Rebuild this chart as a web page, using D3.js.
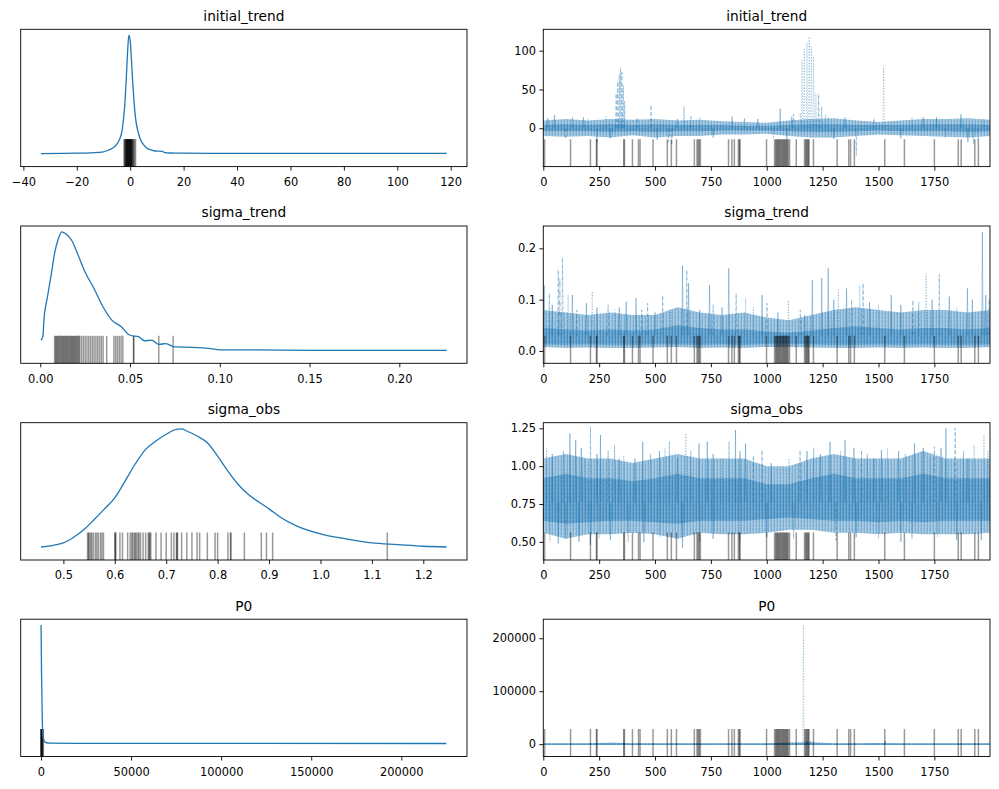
<!DOCTYPE html>
<html lang="en">
<head>
<meta charset="utf-8">
<title>trace plot</title>
<script src="https://cdn.jsdelivr.net/npm/d3@7"></script>
<style>
  body { margin: 0; background: #fff; }
  text { font-family: "DejaVu Sans", sans-serif; fill: #000; }
  .tick text { font-size: 11.4px; }
  .tick line { stroke: #000; stroke-width: 0.9px; }
  .title { font-size: 13.7px; }
  .frame { fill: none; stroke: #000; stroke-width: 0.9px; }
  .kde { fill: none; stroke: #1f77b4; stroke-width: 1.3px; }
  .rug { stroke: #000; stroke-opacity: 0.4; stroke-width: 1.5px; }
  .band { stroke: none; }
  .spike { fill: none; stroke: #1f77b4; stroke-opacity: 0.38; stroke-width: 1px; }
</style>
</head>
<body>
<script>

// ---- data ----
var varNames = ["initial_trend", "sigma_trend", "sigma_obs", "P0"];
var lastDraw = 1999;

// draws where the sampler diverged (rug in the trace panels)
var divergenceDraws = [6, 122, 211, 238, 240, 360, 363, 399, 426, 433, 491, 555, 573, 596,
  676, 688, 693, 698, 703, 829, 844, 855, 873, 878, 880, 999,
  1035, 1040, 1044, 1048, 1052, 1056, 1060, 1064, 1068, 1072, 1076, 1080, 1084, 1088, 1092, 1096, 1102,
  1132, 1169, 1174, 1178, 1182, 1186, 1189, 1209, 1315, 1367, 1375, 1392, 1528, 1616, 1750,
  1857, 1870, 1931, 1947];

// kde curves [value, relative density]
var kdeInitialTrend = [[-33.4, 0.0], [-25, 0.002], [-20, 0.003], [-15, 0.006], [-12, 0.01], [-10, 0.015],
  [-8, 0.03], [-6, 0.055], [-5, 0.08], [-4, 0.12], [-3, 0.2], [-2.5, 0.3], [-2, 0.42], [-1.5, 0.62],
  [-1, 0.85], [-0.5, 1.0], [0, 0.95], [0.5, 0.78], [1, 0.58], [1.5, 0.42], [2, 0.3], [3, 0.18],
  [4, 0.11], [5, 0.075], [6, 0.05], [8, 0.03], [10, 0.02], [11, 0.02], [12, 0.018], [13, 0.008],
  [15, 0.005], [20, 0.003], [30, 0.002], [60, 0.002], [118.5, 0.001]];
var kdeSigmaTrend = [[0.0004, 0.085], [0.0015, 0.12], [0.002, 0.25], [0.004, 0.45], [0.006, 0.63],
  [0.008, 0.82], [0.010, 0.94], [0.012, 1.0], [0.014, 0.986], [0.016, 0.958], [0.018, 0.915],
  [0.020, 0.845], [0.025, 0.66], [0.030, 0.52], [0.035, 0.366], [0.040, 0.253], [0.045, 0.2],
  [0.050, 0.127], [0.055, 0.113], [0.058, 0.08], [0.062, 0.085], [0.066, 0.05], [0.070, 0.056],
  [0.075, 0.028], [0.085, 0.025], [0.095, 0.014], [0.10, 0.003], [0.12, 0.003], [0.15, 0.0], [0.2264, 0.0]];
var kdeSigmaObs = [[0.4565, 0.0], [0.48, 0.014], [0.50, 0.034], [0.52, 0.082], [0.54, 0.147],
  [0.56, 0.232], [0.58, 0.322], [0.60, 0.415], [0.62, 0.556], [0.64, 0.703], [0.66, 0.825],
  [0.68, 0.895], [0.70, 0.952], [0.72, 0.994], [0.73, 0.997], [0.74, 0.98], [0.76, 0.938],
  [0.78, 0.88], [0.80, 0.768], [0.82, 0.64], [0.84, 0.528], [0.86, 0.443], [0.88, 0.38],
  [0.90, 0.322], [0.92, 0.257], [0.95, 0.184], [1.00, 0.11], [1.05, 0.068], [1.10, 0.034],
  [1.15, 0.02], [1.20, 0.006], [1.2455, 0.0]];
var kdeP0 = [[50, 1.0], [300, 0.6], [700, 0.2], [1200, 0.05], [2500, 0.01], [5000, 0.003],
  [20000, 0.001], [225000, 0.0]];

// parameter values at the divergences (rug in the kde panels)
var rugInitialTrend = [-2.3, -2.1, -1.9, -1.7, -1.6, -1.5, -1.4, -1.3, -1.2, -1.1, -1.0, -0.9, -0.8,
  -0.7, -0.6, -0.5, -0.4, -0.3, -0.2, -0.1, 0, 0.1, 0.2, 0.3, 0.4, 0.5, 0.6, 0.7, 0.9, 1.1, 1.3, 1.6, 2.0];
var rugSigmaTrend = [0.008, 0.0085, 0.009, 0.0095, 0.010, 0.0105, 0.011, 0.0115, 0.012, 0.0125, 0.013,
  0.0135, 0.014, 0.0145, 0.015, 0.0155, 0.016, 0.0165, 0.017, 0.0175, 0.018, 0.0185, 0.019, 0.0195,
  0.020, 0.0205, 0.021, 0.0215, 0.022, 0.023, 0.024, 0.025, 0.026, 0.027, 0.028, 0.029, 0.030, 0.031,
  0.032, 0.033, 0.034, 0.035, 0.037, 0.041, 0.042, 0.043, 0.044, 0.045, 0.046, 0.052, 0.052, 0.066, 0.074];
var rugSigmaObs = [0.547, 0.549, 0.55, 0.553, 0.555, 0.558, 0.562, 0.565, 0.568, 0.572, 0.575, 0.578,
  0.60, 0.601, 0.602, 0.61, 0.615, 0.625, 0.63, 0.633, 0.635, 0.638, 0.64, 0.642, 0.645, 0.647, 0.65,
  0.655, 0.66, 0.665, 0.667, 0.668, 0.67, 0.68, 0.69, 0.70, 0.71, 0.715, 0.72, 0.721, 0.722, 0.73,
  0.74, 0.75, 0.76, 0.765, 0.78, 0.795, 0.80, 0.82, 0.825, 0.826, 0.852, 0.885, 0.895, 0.907, 1.13];
var rugP0 = [0, 80, 150, 250, 350, 450, 600, 800, 1000, 1300];

// trace bands, one value every 100 draws: outer envelope and dense core
var bandStep = 100;
var initialTrendUpper = [10, 12, 10, 12, 11, 12, 10, 11, 9, 8, 7, 10, 12, 13, 10, 8, 10, 12, 12, 13, 11];
var initialTrendLower = [-10, -11, -10, -12, -9, -12, -10, -10, -8, -8, -7, -10, -12, -12, -10, -8, -9, -10, -11, -12, -10];
var initialTrendCoreUpper = [4, 5, 4, 5, 4, 5, 4, 4, 4, 3, 3, 4, 5, 5, 4, 4, 4, 5, 5, 5, 4];
var initialTrendCoreLower = [-4, -4, -4, -5, -4, -5, -4, -4, -3, -3, -3, -4, -5, -5, -4, -3, -4, -4, -4, -5, -4];
var sigmaTrendUpper = [0.08, 0.075, 0.07, 0.075, 0.07, 0.07, 0.085, 0.075, 0.07, 0.075, 0.065, 0.06, 0.07, 0.08, 0.085, 0.08, 0.075, 0.08, 0.08, 0.075, 0.08];
var sigmaTrendLower = [0.008, 0.006, 0.007, 0.006, 0.006, 0.007, 0.008, 0.006, 0.007, 0.006, 0.008, 0.008, 0.007, 0.006, 0.006, 0.007, 0.006, 0.007, 0.006, 0.006, 0.008];
var sigmaTrendCoreUpper = [0.045, 0.042, 0.04, 0.042, 0.04, 0.042, 0.05, 0.045, 0.042, 0.042, 0.038, 0.036, 0.04, 0.045, 0.048, 0.045, 0.042, 0.045, 0.045, 0.042, 0.045];
var sigmaTrendCoreLower = [0.013, 0.012, 0.013, 0.012, 0.012, 0.013, 0.013, 0.012, 0.013, 0.012, 0.014, 0.014, 0.013, 0.012, 0.012, 0.013, 0.012, 0.013, 0.012, 0.012, 0.013];
var sigmaObsUpper = [1.05, 1.08, 1.05, 1.05, 1.02, 1.05, 1.08, 1.05, 1.05, 1.05, 1.0, 1.0, 1.05, 1.08, 1.05, 1.05, 1.05, 1.1, 1.05, 1.05, 1.05];
var sigmaObsLower = [0.56, 0.52, 0.55, 0.55, 0.56, 0.55, 0.52, 0.56, 0.55, 0.55, 0.56, 0.58, 0.58, 0.56, 0.56, 0.55, 0.56, 0.55, 0.55, 0.55, 0.56];
var sigmaObsCoreUpper = [0.92, 0.95, 0.92, 0.92, 0.9, 0.92, 0.95, 0.92, 0.92, 0.92, 0.88, 0.88, 0.92, 0.95, 0.92, 0.92, 0.92, 0.95, 0.92, 0.92, 0.92];
var sigmaObsCoreLower = [0.64, 0.62, 0.63, 0.64, 0.64, 0.63, 0.62, 0.64, 0.64, 0.64, 0.65, 0.66, 0.65, 0.64, 0.64, 0.63, 0.64, 0.63, 0.64, 0.64, 0.64];
var p0Upper = [1500, 1500, 1500, 2500, 1500, 1500, 1500, 1500, 1500, 1500, 1500, 2500, 3000, 1500, 1500, 2000, 1500, 1500, 1500, 1500, 1500];
var p0Lower = [-1500, -1500, -1500, -1500, -1500, -1500, -1500, -1500, -1500, -1500, -1500, -1500, -1500, -1500, -1500, -1500, -1500, -1500, -1500, -1500, -1500];

// single excursions of a chain [draw, value, chain]
var initialTrendSpikes = [[50, 17, 0], [130, 15, 1], [200, 12, 2], [240, -18, 0], [326, 45, 1], [333, 60, 1],
  [340, 70, 1], [346, 78, 1], [352, 72, 1], [358, 55, 1], [364, 35, 1], [482, 30, 1], [560, -18, 1],
  [575, -22, 1], [630, 28, 1], [660, 15, 3], [845, 15, 0], [1060, 25, 0], [1112, 15, 0], [1150, 20, 2],
  [1158, 88, 2], [1168, 102, 2], [1180, 110, 2], [1190, 118, 2], [1200, 105, 2], [1210, 92, 2],
  [1220, 45, 2], [1232, 44, 1], [1245, 28, 1], [1262, 18, 2], [1275, 15, 2], [1401, -35, 1], [1523, 80, 2],
  [1700, 14, 0], [1869, 18, 0], [1925, -20, 1], [1945, -15, 3],
  [20, 13, 0], [100, -14, 1], [180, 14, 0], [280, 15, 2], [300, -13, 0], [420, 14, 1], [510, -15, 0],
  [600, 12, 0], [700, 14, 2], [760, -12, 0], [900, 14, 1], [960, 12, 0], [1030, -13, 2], [1090, -14, 0],
  [1120, 18, 1], [1300, -14, 0], [1350, 14, 0], [1480, 13, 1], [1600, -13, 0], [1650, 14, 2],
  [1760, 14, 0], [1800, -12, 1], [1900, -18, 0], [1970, 12, 2]];
var sigmaTrendSpikes = [[4, 0.128, 0], [27, 0.112, 1], [67, 0.158, 1], [74, 0.142, 3], [86, 0.182, 1],
  [111, 0.109, 2], [130, 0.109, 0], [193, 0.093, 0], [219, 0.116, 2], [290, 0.09, 1], [371, 0.096, 0],
  [415, 0.103, 0], [467, 0.093, 1], [534, 0.109, 1], [623, 0.166, 0], [642, 0.158, 1], [650, 0.132, 0],
  [744, 0.128, 0], [830, 0.161, 0], [863, 0.112, 1], [905, 0.103, 2], [979, 0.109, 0], [1001, 0.093, 1],
  [1097, 0.099, 2], [1204, 0.138, 0], [1246, 0.142, 0], [1275, 0.161, 0], [1320, 0.119, 2],
  [1357, 0.122, 0], [1416, 0.128, 2], [1431, 0.132, 1], [1557, 0.109, 0], [1654, 0.099, 1],
  [1713, 0.151, 2], [1772, 0.149, 1], [1817, 0.106, 0], [1898, 0.122, 0], [1965, 0.232, 0], [1980, 0.109, 0],
  [40, 0.09, 0], [150, 0.08, 1], [240, 0.085, 0], [320, 0.08, 2], [340, 0.085, 0], [440, 0.08, 1],
  [500, 0.075, 0], [570, 0.08, 2], [700, 0.08, 0], [760, 0.09, 1], [800, 0.085, 0], [940, 0.085, 2],
  [1050, 0.075, 0], [1150, 0.08, 1], [1170, 0.07, 0], [1300, 0.1, 0], [1380, 0.1, 1], [1460, 0.095, 0],
  [1500, 0.09, 2], [1600, 0.09, 0], [1680, 0.095, 1], [1740, 0.1, 0], [1850, 0.085, 2], [1920, 0.1, 0],
  [1995, 0.1, 1]];
var sigmaObsSpikes = [[15, 1.117, 2], [119, 1.217, 0], [145, 1.172, 0], [211, 1.261, 1], [256, 1.206, 0],
  [319, 1.139, 1], [445, 1.161, 0], [564, 1.161, 1], [638, 1.217, 2], [697, 1.15, 0], [734, 1.161, 0],
  [831, 1.161, 1], [860, 1.239, 0], [905, 1.15, 0], [979, 1.106, 1], [1149, 1.106, 1], [1283, 1.161, 0],
  [1350, 1.172, 0], [1424, 1.106, 1], [1513, 1.106, 0], [1661, 1.15, 0], [1750, 1.128, 1], [1802, 1.25, 0],
  [1843, 1.25, 1], [1928, 1.139, 2], [1972, 1.206, 2],
  [40, 1.08, 0], [90, 1.1, 1], [170, 1.12, 0], [185, 1.05, 2], [240, 1.08, 0], [290, 1.1, 1],
  [340, 1.05, 0], [360, 1.07, 2], [410, 1.05, 0], [480, 1.08, 1], [520, 1.1, 0], [545, 1.12, 2],
  [600, 1.05, 0], [660, 1.1, 1], [760, 1.08, 0], [800, 1.05, 2], [880, 1.1, 0], [940, 1.07, 1],
  [1020, 1.02, 0], [1100, 1.05, 2], [1180, 1.1, 0], [1210, 1.12, 1], [1240, 1.08, 0], [1330, 1.1, 2],
  [1390, 1.12, 0], [1450, 1.08, 1], [1480, 1.05, 0], [1540, 1.12, 2], [1590, 1.1, 0], [1620, 1.08, 1],
  [1700, 1.12, 0], [1730, 1.05, 2], [1780, 1.12, 0], [1880, 1.1, 1], [1900, 1.05, 0], [1990, 1.1, 2],
  [30, 0.5, 2], [67, 0.49, 0], [100, 0.52, 1], [160, 0.5, 0], [211, 0.48, 0], [250, 0.52, 2],
  [300, 0.51, 0], [380, 0.5, 1], [450, 0.5, 0], [520, 0.53, 2], [623, 0.46, 0], [700, 0.5, 1],
  [760, 0.52, 0], [880, 0.5, 2], [1000, 0.53, 0], [1120, 0.52, 1], [1310, 0.51, 1], [1400, 0.53, 0],
  [1500, 0.52, 2], [1600, 0.5, 0], [1650, 0.52, 1], [1765, 0.53, 2], [1850, 0.51, 0], [1960, 0.51, 0]];
var p0Spikes = [[360, 3500, 0], [1164, 225200, 2], [1180, 8000, 1], [1195, 6000, 0], [1210, 4000, 1], [1530, 6000, 0]];

// tick labels
var kdeTicksInitialTrend = [-40, -20, 0, 20, 40, 60, 80, 100, 120];
var kdeTicksSigmaTrend = [0, 0.05, 0.10, 0.15, 0.20];
var kdeTicksSigmaObs = [0.5, 0.6, 0.7, 0.8, 0.9, 1.0, 1.1, 1.2];
var kdeTicksP0 = [0, 50000, 100000, 150000, 200000];
var drawTicks = [0, 250, 500, 750, 1000, 1250, 1500, 1750];
var traceTicksInitialTrend = [0, 50, 100];
var traceTicksSigmaTrend = [0, 0.1, 0.2];
var traceTicksSigmaObs = [0.5, 0.75, 1.0, 1.25];
var traceTicksP0 = [0, 100000, 200000];

// ---- layout ----
var w = 999, h = 789;
var leftX = [20.7, 467];
var rightX = [543.3, 990];
var rowTops = [29.3, 226, 422.7, 619.2];
var panelH = 137.3;
var dashes = [null, "4,2", "1.2,1.6", "5,2,1.2,2"];

var rows = [
  {kde: kdeInitialTrend, rug: rugInitialTrend, kdeDom: [-41.0, 126.1], kdeTicks: kdeTicksInitialTrend, kdeFmt: "d",
   yDom: [-49.5, 127.6], yTicks: traceTicksInitialTrend, yFmt: "d", base: 0, spikes: initialTrendSpikes,
   up: initialTrendUpper, lo: initialTrendLower, cUp: initialTrendCoreUpper, cLo: initialTrendCoreLower},
  {kde: kdeSigmaTrend, rug: rugSigmaTrend, kdeDom: [-0.0109, 0.2377], kdeTicks: kdeTicksSigmaTrend, kdeFmt: ".2f",
   yDom: [-0.024, 0.2435], yTicks: traceTicksSigmaTrend, yFmt: ".1f", base: 0.03, spikes: sigmaTrendSpikes,
   up: sigmaTrendUpper, lo: sigmaTrendLower, cUp: sigmaTrendCoreUpper, cLo: sigmaTrendCoreLower},
  {kde: kdeSigmaObs, rug: rugSigmaObs, kdeDom: [0.417, 1.285], kdeTicks: kdeTicksSigmaObs, kdeFmt: ".1f",
   yDom: [0.38, 1.287], yTicks: traceTicksSigmaObs, yFmt: ".2f", base: 0.76, spikes: sigmaObsSpikes,
   up: sigmaObsUpper, lo: sigmaObsLower, cUp: sigmaObsCoreUpper, cLo: sigmaObsCoreLower},
  {kde: kdeP0, rug: rugP0, kdeDom: [-11260, 236460], kdeTicks: kdeTicksP0, kdeFmt: "d",
   yDom: [-23300, 236000], yTicks: traceTicksP0, yFmt: "d", base: 0, spikes: p0Spikes,
   up: p0Upper, lo: p0Lower, cUp: p0Upper, cLo: p0Lower}
];

var svg = d3.select("body").append("svg")
  .attr("width", w)
  .attr("height", h);

// vertical-stroke texture for the dense part of the traces
var defs = svg.append("defs");
var pat = defs.append("pattern")
  .attr("id", "strokes")
  .attr("patternUnits", "userSpaceOnUse")
  .attr("width", 3).attr("height", 4);
pat.append("rect").attr("width", 3).attr("height", 4)
  .attr("fill", "#1f77b4").attr("fill-opacity", 0.38);
pat.append("rect").attr("x", 0).attr("width", 1).attr("height", 4)
  .attr("fill", "#1f77b4").attr("fill-opacity", 0.35);
pat.append("rect").attr("x", 2).attr("width", 0.6).attr("height", 3)
  .attr("fill", "#1f77b4").attr("fill-opacity", 0.25);

rows.forEach(function(r, i) {
  var top = rowTops[i], bottom = top + panelH;

  // ---------- left: kde + rug ----------
  var xk = d3.scaleLinear().domain(r.kdeDom).range(leftX);
  var yk = d3.scaleLinear().domain([-0.11, 1.05]).range([bottom, top]);

  var gk = svg.append("g");
  gk.selectAll("line.rug")
    .data(r.rug)
    .enter().append("line")
    .attr("class", "rug")
    .attr("x1", d => xk(d)).attr("x2", d => xk(d))
    .attr("y1", bottom).attr("y2", bottom - panelH * 0.2);

  gk.append("path")
    .datum(r.kde)
    .attr("class", "kde")
    .attr("d", d3.line().x(d => xk(d[0])).y(d => yk(d[1])).curve(d3.curveMonotoneX));

  gk.append("g")
    .attr("transform", `translate(0, ${bottom})`)
    .call(d3.axisBottom(xk).tickValues(r.kdeTicks).tickFormat(d3.format(r.kdeFmt))
      .tickSize(4).tickSizeOuter(0).tickPadding(7.4))
    .call(g => g.select(".domain").remove());

  gk.append("rect").attr("class", "frame")
    .attr("x", leftX[0]).attr("y", top)
    .attr("width", leftX[1] - leftX[0]).attr("height", panelH);

  gk.append("text").attr("class", "title")
    .attr("x", (leftX[0] + leftX[1]) / 2).attr("y", top - 8.6)
    .attr("text-anchor", "middle")
    .text(varNames[i]);

  // ---------- right: trace ----------
  var xt = d3.scaleLinear().domain([0, lastDraw]).range(rightX);
  var yt = d3.scaleLinear().domain(r.yDom).range([bottom, top]);

  var clipId = "clip" + i;
  defs.append("clipPath").attr("id", clipId)
    .append("rect")
    .attr("x", rightX[0]).attr("y", top)
    .attr("width", rightX[1] - rightX[0]).attr("height", panelH);

  var gt = svg.append("g").attr("clip-path", `url(#${clipId})`);

  var bandArea = function(upper, lower) {
    return d3.area()
      .x((d, j) => xt(j * bandStep))
      .y0((d, j) => yt(lower[j]))
      .y1((d, j) => yt(upper[j]));
  };

  gt.append("path")
    .datum(r.up)
    .attr("class", "band")
    .attr("fill", "url(#strokes)")
    .attr("d", bandArea(r.up, r.lo));

  gt.append("path")
    .datum(r.cUp)
    .attr("class", "band")
    .attr("fill", "url(#strokes)")
    .attr("d", bandArea(r.cUp, r.cLo));

  gt.selectAll("path.spike")
    .data(r.spikes)
    .enter().append("path")
    .attr("class", "spike")
    .attr("stroke-dasharray", d => dashes[d[2]])
    .attr("d", d => d3.line()([[xt(d[0] - 3), yt(r.base)], [xt(d[0]), yt(d[1])], [xt(d[0] + 3), yt(r.base)]]));

  gt.selectAll("line.rug")
    .data(divergenceDraws)
    .enter().append("line")
    .attr("class", "rug")
    .attr("x1", d => xt(d)).attr("x2", d => xt(d))
    .attr("y1", bottom).attr("y2", bottom - panelH * 0.2);

  svg.append("g")
    .attr("transform", `translate(0, ${bottom})`)
    .call(d3.axisBottom(xt).tickValues(drawTicks).tickFormat(d3.format("d"))
      .tickSize(4).tickSizeOuter(0).tickPadding(7.4))
    .call(g => g.select(".domain").remove());

  svg.append("g")
    .attr("transform", `translate(${rightX[0]}, 0)`)
    .call(d3.axisLeft(yt).tickValues(r.yTicks).tickFormat(d3.format(r.yFmt))
      .tickSize(4).tickSizeOuter(0).tickPadding(3.3))
    .call(g => g.select(".domain").remove());

  svg.append("rect").attr("class", "frame")
    .attr("x", rightX[0]).attr("y", top)
    .attr("width", rightX[1] - rightX[0]).attr("height", panelH);

  svg.append("text").attr("class", "title")
    .attr("x", (rightX[0] + rightX[1]) / 2).attr("y", top - 8.6)
    .attr("text-anchor", "middle")
    .text(varNames[i]);
});

</script>
</body>
</html>
